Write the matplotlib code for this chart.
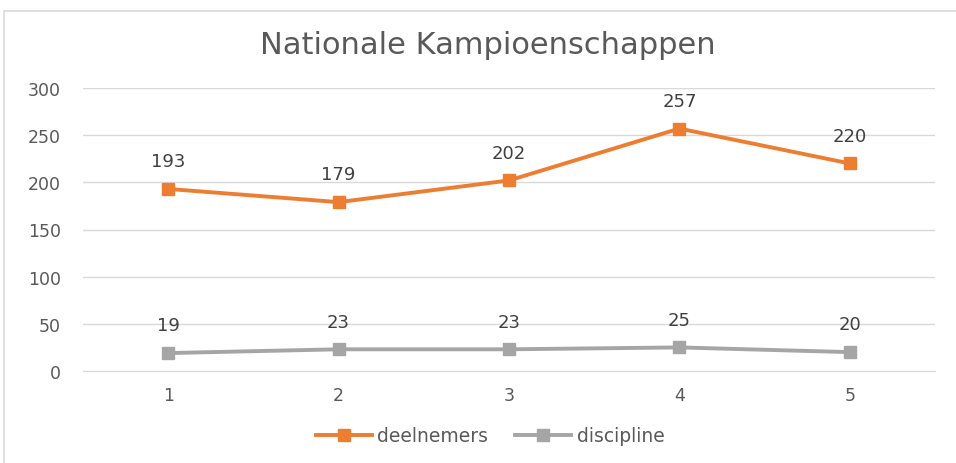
import matplotlib
matplotlib.use("Agg")
import matplotlib.pyplot as plt
from matplotlib.patches import Rectangle

categories = ["1", "2", "3", "4", "5"]
deelnemers = [193, 179, 202, 257, 220]
discipline = [19, 23, 23, 25, 20]
yticks = [0, 50, 100, 150, 200, 250, 300]
title = "Nationale Kampioenschappen"

plt.rcParams["font.family"] = ["DejaVu Sans"]

W, H = 956, 464
fig = plt.figure(figsize=(W / 100, H / 100), dpi=100)
fig.patch.set_facecolor("white")

# chart border (partially cropped)
fig.add_artist(Rectangle((4 / W, -0.1), 1.2, 1.1 - 12 / H, transform=fig.transFigure,
                         fill=False, edgecolor="#d9d9d9", linewidth=1.2))

left, right = 83 / W, 935 / W
bottom, top = 1 - 372 / H, 1 - 89 / H
ax = fig.add_axes([left, bottom, right - left, top - bottom])

x = list(range(len(categories)))
orange = "#ed7d31"
gray = "#a5a5a5"
ax.plot(x, deelnemers, color=orange, linewidth=2.8, marker="s", markersize=8.5, label="deelnemers")
ax.plot(x, discipline, color=gray, linewidth=2.8, marker="s", markersize=8.5, label="discipline")

for vals in (deelnemers, discipline):
    for xi, v in zip(x, vals):
        ax.annotate(str(v), (xi, v), xytext=(0, 20), textcoords="offset points",
                    ha="center", va="center", fontsize=13, color="#404040")

ax.set_xlim(-0.5, len(categories) - 0.5)
ax.set_ylim(0, 300)
ax.set_yticks(yticks)
ax.set_xticks(x)
ax.set_xticklabels(categories)
ax.grid(axis="y", color="#d9d9d9", linewidth=1)
ax.set_axisbelow(True)
for s in ["top", "right", "left"]:
    ax.spines[s].set_visible(False)
ax.spines["bottom"].set_color("#d9d9d9")
ax.tick_params(axis="both", length=0, labelsize=12.5, labelcolor="#595959")
ax.tick_params(axis="y", pad=16)
ax.tick_params(axis="x", pad=11)

fig.text(488 / W, 1 - 46 / H, title, ha="center", va="center", fontsize=22,
         color="#595959")

leg = fig.legend(loc="center", bbox_to_anchor=(490 / W, 1 - 437 / H), ncol=2, frameon=False,
                 fontsize=13.5, labelcolor="#595959", handlelength=3.0, columnspacing=1.4,
                 handletextpad=0.3)

fig.savefig("out.png", dpi=100, facecolor="white")
